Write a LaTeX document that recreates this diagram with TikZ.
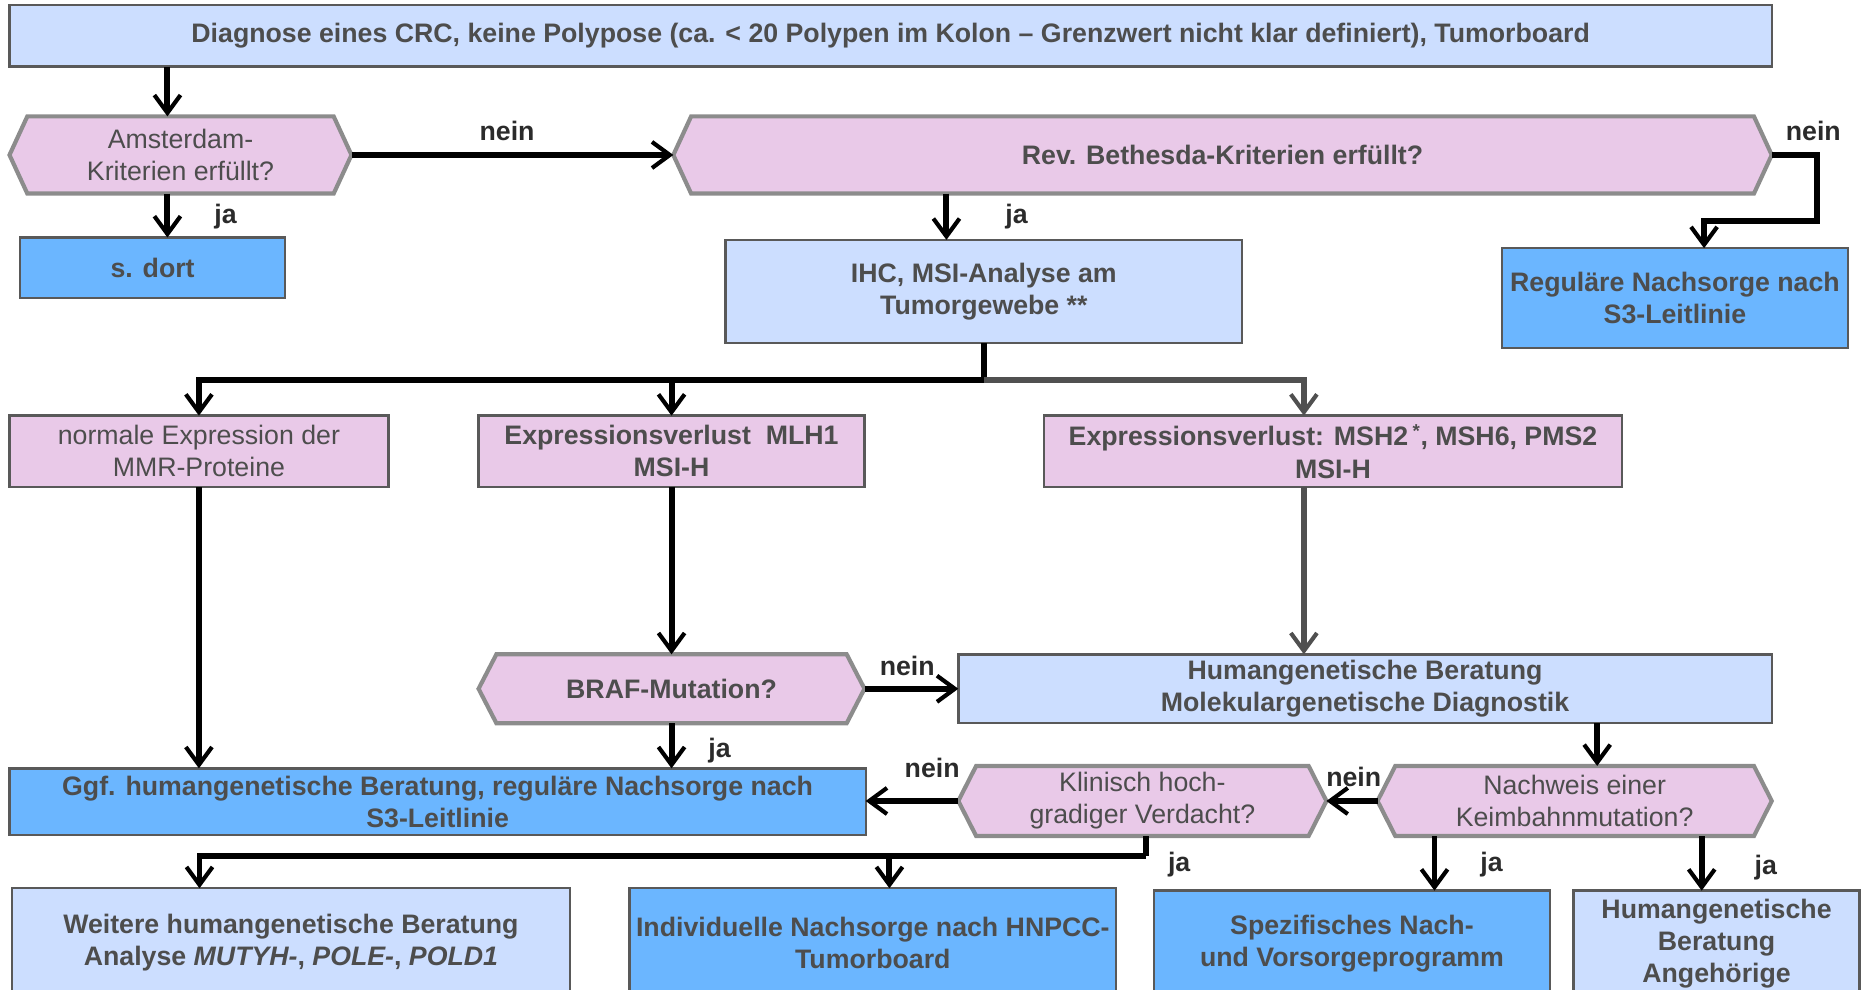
\documentclass[tikz,border=0pt]{standalone}
\usepackage{fontspec}
\setmainfont{Liberation Sans}
\usetikzlibrary{arrows.meta,backgrounds}
\definecolor{lblue}{HTML}{CCDEFF}
\definecolor{mblue}{HTML}{6BB6FF}
\definecolor{pinkf}{HTML}{E9C9E8}
\definecolor{bord}{HTML}{595959}
\definecolor{hexb}{HTML}{8C8C8C}
\definecolor{txt}{HTML}{4D4D4D}
\definecolor{lblc}{HTML}{2B2B2B}
\definecolor{gline}{HTML}{505050}
\newcommand\hexof[1]{\draw[hexline] (#1.west) -- ([xshift=15pt]#1.north west) -- ([xshift=-15pt]#1.north east) -- (#1.east) -- ([xshift=-15pt]#1.south east) -- ([xshift=15pt]#1.south west) -- cycle;}
\begin{document}
\begin{tikzpicture}[x=1pt,y=-1pt,
  nrm/.style={inner sep=0pt, outer sep=0pt, align=center, text=txt, font=\fontsize{22.5}{27}\selectfont},
  bld/.style={inner sep=0pt, outer sep=0pt, align=center, text=txt, font=\fontsize{22.5}{27}\selectfont\bfseries},
  rbox/.style={draw=bord, line width=2pt},
  lb/.style={rbox, fill=lblue},
  mb/.style={rbox, fill=mblue},
  pb/.style={rbox, fill=pinkf},
  hexline/.style={draw=hexb, line width=3.5pt, fill=pinkf, line join=miter},
  lbl/.style={inner sep=0pt, text=lblc, font=\fontsize{22.5}{27}\selectfont\bfseries},
  conn/.style={line width=5pt, draw=black},
  arr/.style={conn, -{Straight Barb[length=15pt,width=22pt,line width=3.5pt]}},
  arrg/.style={arr, draw=gline},
  conng/.style={conn, draw=gline}
]
\useasboundingbox (0,0) rectangle (1568,833);

% nodes
\node[bld, lb, minimum width=1484pt, minimum height=52pt] (top) at (750,30)
  {Diagnose eines CRC, keine Polypose (ca. < 20 Polypen im Kolon -- Grenzwert nicht klar definiert), Tumorboard};
\node[nrm, minimum width=288pt, minimum height=65pt] (ams) at (152,130.5) {Amsterdam-\\Kriterien erfüllt?};
\node[bld, mb, minimum width=223pt, minimum height=51pt] (sdort) at (128.5,225.5) {s. dort};
\node[bld, minimum width=925pt, minimum height=65pt] (beth) at (1029.5,130.5) {Rev. Bethesda-Kriterien erfüllt?};
\node[bld, mb, minimum width=291pt, minimum height=84pt] (regul) at (1410.5,251) {Reguläre Nachsorge nach\\S3-Leitlinie};
\node[bld, lb, minimum width=435pt, minimum height=87pt] (ihc) at (828.5,245.5) {IHC, MSI-Analyse am\\Tumorgewebe **};
\node[nrm, pb, minimum width=319pt, minimum height=60pt] (normal) at (167.5,380) {normale Expression der\\MMR-Proteine};
\node[bld, pb, minimum width=325pt, minimum height=60pt] (mlh) at (565.5,380) {Expressionsverlust\ \ MLH1\\MSI-H};
\node[bld, pb, minimum width=487pt, minimum height=60pt] (msh) at (1122.5,380) {Expressionsverlust: MSH2\,\textsuperscript{*}, MSH6, PMS2\\MSI-H};
\node[bld, minimum width=325pt, minimum height=58pt] (braf) at (565.5,580) {BRAF-Mutation?};
\node[bld, lb, minimum width=685pt, minimum height=58pt] (humg) at (1149.5,580) {Humangenetische Beratung\\Molekulargenetische Diagnostik};
\node[bld, mb, minimum width=721pt, minimum height=56pt] (ggf) at (368.5,675) {Ggf. humangenetische Beratung, reguläre Nachsorge nach\\S3-Leitlinie};
\node[nrm, minimum width=310pt, minimum height=59pt] (klin) at (962,674.5) {Klinisch hoch-\\gradiger Verdacht?};
\node[nrm, minimum width=332pt, minimum height=59pt] (nachw) at (1326,674.5) {Nachweis einer\\Keimbahnmutation?};
\node[bld, lb, minimum width=470pt, minimum height=92pt] (weit) at (245,794) {Weitere humangenetische Beratung\\Analyse \textit{MUTYH-}, \textit{POLE-}, \textit{POLD1}};
\node[bld, mb, minimum width=410pt, minimum height=92pt] (indiv) at (735,794) {Individuelle Nachsorge nach HNPCC-\\Tumorboard};
\node[bld, mb, minimum width=333pt, minimum height=90pt] (spez) at (1138.5,795) {Spezifisches Nach-\\und Vorsorgeprogramm};
\node[bld, lb, minimum width=241pt, minimum height=90pt] (angeh) at (1445.5,795) {Humangenetische\\Beratung\\Angehörige};

\begin{pgfonlayer}{background}
\hexof{ams}
\hexof{beth}
\hexof{braf}
\hexof{klin}
\hexof{nachw}
\end{pgfonlayer}

% helper coordinates
\coordinate (c141) at (141,0);
\coordinate (c797) at (797,0);
\coordinate (j1) at (829,320);
\coordinate (c1098) at (1098,0);
\coordinate (c1345) at (1345,0);
\coordinate (j2) at (965,721);
\coordinate (c168) at (168,0);
\coordinate (c749) at (749,0);
\coordinate (c1208) at (1208,0);
\coordinate (c1433) at (1433,0);

% connectors
\draw[arr] (top.south -| c141) -- (ams.north -| c141);
\draw[arr] (ams.south -| c141) -- (sdort.north -| c141);
\draw[arr] (ams.east) -- (beth.west);
\draw[arr] (beth.south -| c797) -- (ihc.north -| c797);
\draw[arr] (beth.east) -- ++(38,0) -- ++(0,55.5) -| ([xshift=24.5pt]regul.north);
\draw[conn] (ihc.south -| j1) -- (j1);
\draw[arr] (j1) -| (normal.north);
\draw[arr] (j1) -| (mlh.north);
\draw[arrg] (j1) -| (msh.north -| c1098);
\draw[arr] (normal.south) -- (normal.south |- ggf.north);
\draw[arr] (mlh.south) -- (braf.north);
\draw[arr] (braf.south) -- (braf.south |- ggf.north);
\draw[arrg] (msh.south -| c1098) -- (humg.north -| c1098);
\draw[arr] (braf.east) -- (humg.west);
\draw[arr] (humg.south -| c1345) -- (nachw.north -| c1345);
\draw[arr] (nachw.west) -- (klin.east);
\draw[arr] (klin.west) -- (klin.west -| ggf.east);
\draw[conn] (klin.south -| j2) -- (j2);
\draw[arr] (j2) -| (c168 |- weit.north);
\draw[arr] (j2) -| (c749 |- indiv.north);
\draw[arr] (nachw.south -| c1208) -- (spez.north -| c1208);
\draw[arr] (nachw.south -| c1433) -- (angeh.north -| c1433);

% labels
\node[lbl] (l1) at (427,110) {nein};
\node[lbl] (l2) at (190,182) {ja};
\node[lbl] (l3) at (856,182) {ja};
\node[lbl] (l4) at (1527,110) {nein};
\node[lbl] (l5) at (764,561) {nein};
\node[lbl] (l6) at (606,632) {ja};
\node[lbl] (l7) at (785,647) {nein};
\node[lbl] (l8) at (1140,654) {nein};
\node[lbl] (l9) at (993,728) {ja};
\node[lbl] (l10) at (1256,728) {ja};
\node[lbl] (l11) at (1487,731) {ja};
\end{tikzpicture}
\end{document}
